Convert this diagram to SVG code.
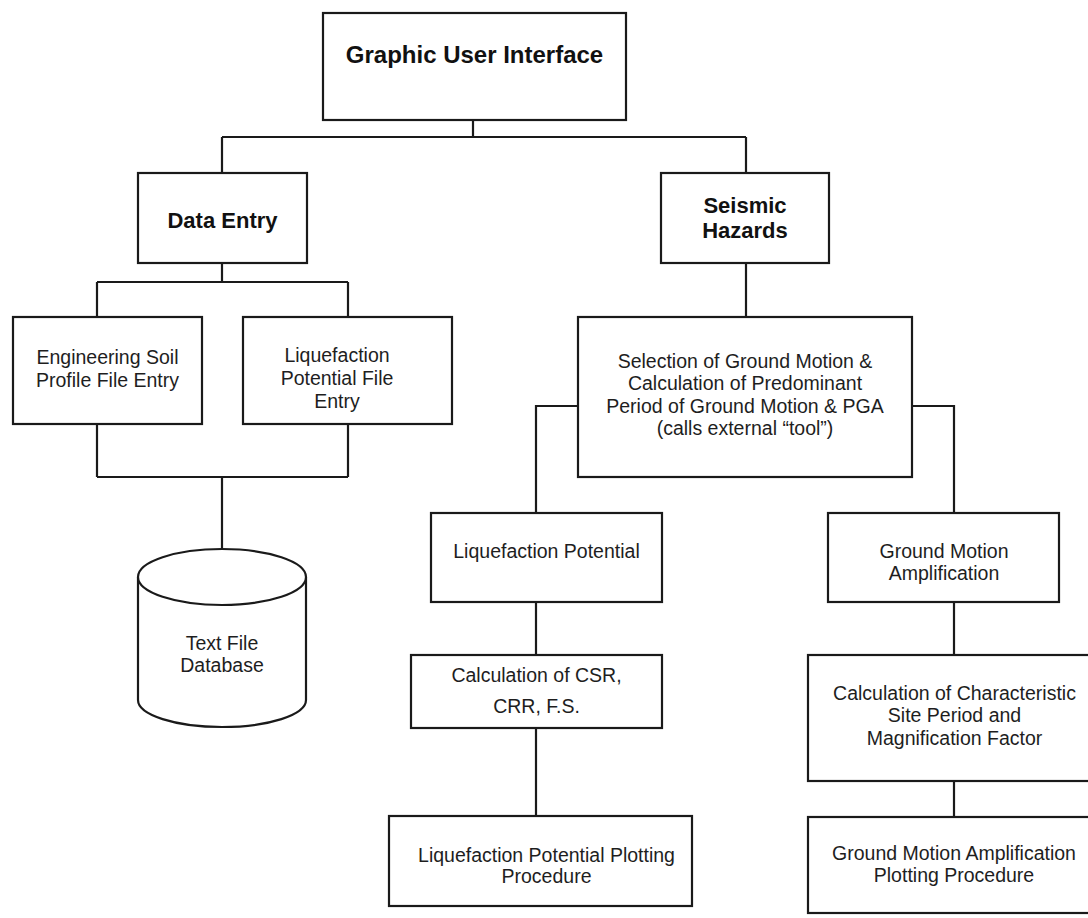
<svg xmlns="http://www.w3.org/2000/svg" width="1088" height="918" viewBox="0 0 1088 918">
<style>
.box{fill:#fff;stroke:#1a1a1a;stroke-width:2.2}
.ln{fill:none;stroke:#1a1a1a;stroke-width:2.2}
.t{font-family:"Liberation Sans",Arial,sans-serif;font-size:19.5px;fill:#1e1e1e;text-anchor:middle}
.b{font-family:"Liberation Sans",Arial,sans-serif;font-size:22px;font-weight:bold;fill:#111;text-anchor:middle}
</style>
<rect width="1088" height="918" fill="#fff"/>
<g id="connectors">
<path class="ln" d="M473,120V137M222,137H746M222,137V173M746,137V173"/>
<path class="ln" d="M222,263V282M97,282H348M97,282V317M348,282V317"/>
<path class="ln" d="M97,424V477M348,424V477M97,477H348M222,477V548"/>
<path class="ln" d="M746,263V317"/>
<path class="ln" d="M578,406H536V513M912,406H954V513"/>
<path class="ln" d="M536,602V655M536,728V816"/>
<path class="ln" d="M954,602V655M954,781V817"/>
</g>
<g id="gui">
<rect class="box" x="323" y="13" width="303" height="107"/>
<text class="b" x="474.5" y="63" style="font-size:24px">Graphic User Interface</text>
</g>
<g id="data-entry">
<rect class="box" x="138" y="173" width="169" height="90"/>
<text class="b" x="222.5" y="228">Data Entry</text>
</g>
<g id="seismic-hazards">
<rect class="box" x="661" y="173" width="168" height="90"/>
<text class="b" x="745" y="213">Seismic</text>
<text class="b" x="745" y="238">Hazards</text>
</g>
<g id="eng-soil">
<rect class="box" x="13" y="317" width="189" height="107"/>
<text class="t" x="107.5" y="364">Engineering Soil</text>
<text class="t" x="107.5" y="387">Profile File Entry</text>
</g>
<g id="liq-file">
<rect class="box" x="243" y="317" width="209" height="107"/>
<text class="t" x="337" y="362">Liquefaction</text>
<text class="t" x="337" y="385">Potential File</text>
<text class="t" x="337" y="408">Entry</text>
</g>
<g id="database">
<path class="box" d="M138,577V700A84,27 0 0 0 306,700V577"/>
<ellipse class="box" cx="222" cy="577" rx="84" ry="28"/>
<text class="t" x="222" y="650">Text File</text>
<text class="t" x="222" y="672">Database</text>
</g>
<g id="selection">
<rect class="box" x="578" y="317" width="334" height="160"/>
<text class="t" x="745" y="368">Selection of Ground Motion &amp;</text>
<text class="t" x="745" y="390">Calculation of Predominant</text>
<text class="t" x="745" y="413">Period of Ground Motion &amp; PGA</text>
<text class="t" x="745" y="435">(calls external “tool”)</text>
</g>
<g id="liq-potential">
<rect class="box" x="431" y="513" width="231" height="89"/>
<text class="t" x="546.5" y="558">Liquefaction Potential</text>
</g>
<g id="csr">
<rect class="box" x="411" y="655" width="251" height="73"/>
<text class="t" x="536.5" y="682">Calculation of CSR,</text>
<text class="t" x="536.5" y="713">CRR, F.S.</text>
</g>
<g id="liq-plot">
<rect class="box" x="389" y="816" width="303" height="90"/>
<text class="t" x="546.5" y="862">Liquefaction Potential Plotting</text>
<text class="t" x="546.5" y="883">Procedure</text>
</g>
<g id="gm-amp">
<rect class="box" x="828" y="513" width="231" height="89"/>
<text class="t" x="944" y="558">Ground Motion</text>
<text class="t" x="944" y="580">Amplification</text>
</g>
<g id="site-period">
<rect class="box" x="808" y="655" width="290" height="126"/>
<text class="t" x="954.5" y="700">Calculation of Characteristic</text>
<text class="t" x="954.5" y="722">Site Period and</text>
<text class="t" x="954.5" y="745">Magnification Factor</text>
</g>
<g id="gm-plot">
<rect class="box" x="808" y="817" width="290" height="96"/>
<text class="t" x="954" y="860">Ground Motion Amplification</text>
<text class="t" x="954" y="882">Plotting Procedure</text>
</g>
</svg>
